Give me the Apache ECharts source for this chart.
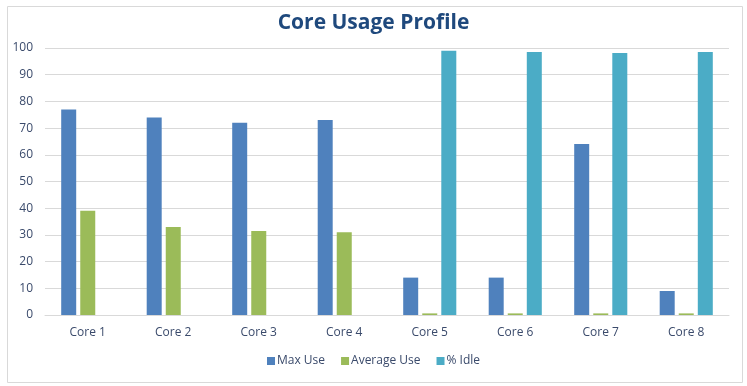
<!DOCTYPE html>
<html>
<head>
<meta charset="utf-8">
<script src="https://cdn.jsdelivr.net/npm/echarts@6/dist/echarts.min.js"></script>
<style>html,body{margin:0;padding:0;background:#fff}#c{width:747px;height:386px}</style>
</head>
<body>
<div id="c"></div>
<script>
const categories = ['Core 1','Core 2','Core 3','Core 4','Core 5','Core 6','Core 7','Core 8'];
const maxUse = [77, 74, 72, 73, 14, 14, 64, 9];
const avgUse = [39, 33, 31.5, 31, 0.6, 0.6, 0.6, 0.6];
const idle = [0, 0, 0, 0, 99, 98.5, 98.1, 98.5];
const seriesNames = ['Max Use', 'Average Use', '% Idle'];
const colors = ['#4F81BD', '#9BBB59', '#4BACC6'];

const chart = echarts.init(document.getElementById('c'), null, {renderer: 'canvas'});
const labelColor = '#3A4A6B';
const font = "'Open Sans', 'Noto Sans', sans-serif";
chart.setOption({
  animation: false,
  color: colors,
  title: {
    text: 'Core Usage Profile',
    left: 'center',
    top: 8,
    textStyle: {fontFamily: "'Open Sans', sans-serif", fontWeight: 'bold', fontSize: 21, color: '#1F497D'}
  },
  graphic: [{
    type: 'rect', left: 5, top: 4, shape: {width: 735, height: 376},
    style: {fill: 'none', stroke: '#D9D9D9', lineWidth: 1}, silent: true, z: -1
  }],
  legend: {
    data: seriesNames,
    bottom: 14,
    left: 'center',
    itemWidth: 8, itemHeight: 8, itemGap: 16,
    icon: 'rect',
    textStyle: {fontFamily: font, fontSize: 12, color: labelColor, padding: [0, 0, 0, -3]}
  },
  grid: {left: 45, right: 18, top: 48, bottom: 71, containLabel: false},
  xAxis: {
    type: 'category', data: categories,
    axisLine: {lineStyle: {color: '#D9D9D9'}},
    axisTick: {show: false},
    axisLabel: {color: labelColor, fontFamily: font, fontSize: 12, margin: 12}
  },
  yAxis: {
    type: 'value', min: 0, max: 100, interval: 10,
    axisLine: {show: false}, axisTick: {show: false},
    splitLine: {lineStyle: {color: '#D9D9D9'}},
    axisLabel: {color: labelColor, fontFamily: font, fontSize: 12, margin: 12}
  },
  series: [
    {name: seriesNames[0], type: 'bar', data: maxUse, barWidth: 15, barGap: '27%'},
    {name: seriesNames[1], type: 'bar', data: avgUse, barWidth: 15, barGap: '27%'},
    {name: seriesNames[2], type: 'bar', data: idle, barWidth: 15, barGap: '27%'}
  ]
});
</script>
</body>
</html>
